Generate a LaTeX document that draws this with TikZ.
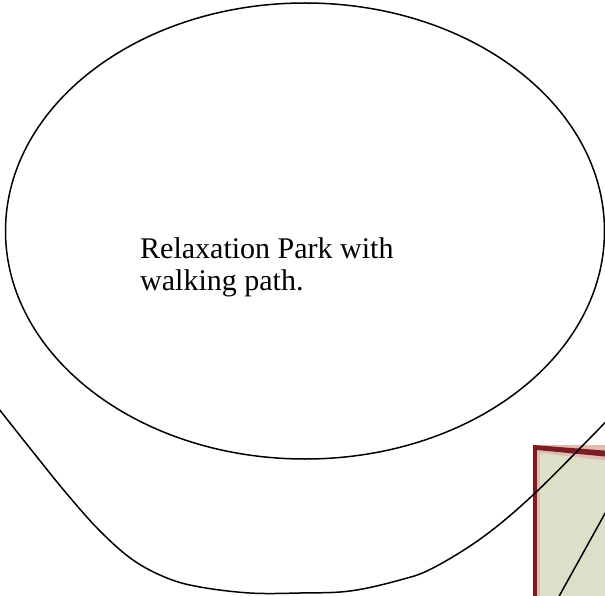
\documentclass[tikz,border=0pt]{standalone}
\usepackage{fontspec}
\setmainfont{Liberation Serif}
\usetikzlibrary{shapes.geometric}
\definecolor{frameRed}{RGB}{122,30,36}
\definecolor{framePink}{RGB}{226,186,178}
\definecolor{boxFill}{RGB}{222,223,200}
\tikzset{
  outline/.style={draw=black, line width=1.5pt},
  label/.style={align=left, font=\fontsize{30}{32}\selectfont, inner sep=0pt},
}
\begin{document}
\begin{tikzpicture}[x=1pt, y=-1pt]
\useasboundingbox (0,0) rectangle (605,596);
\clip (0,0) rectangle (605,596);
% ellipse
\node[outline, ellipse, minimum width=599pt, minimum height=456pt, inner sep=0pt] (park) at (305,231) {};
\node[label, anchor=base west] (txt) at (140,290) {Relaxation Park with\\walking path.};
% picture frame at bottom right
\fill[framePink] (533,445) rectangle (610,600);
\fill[frameRed] (533,445) rectangle (537,600);
\fill[frameRed] (533,445) -- (610,451) -- (610,457) -- (537,450) -- cycle;
\fill[boxFill] (540,453) -- (610,461) -- (610,600) -- (540,600) -- cycle;
\coordinate (l1) at (608,508);
\coordinate (l2) at (557,600);
\draw[outline] (l1) -- (l2);
% walking path curve
\draw[outline] plot[smooth, tension=0.6] coordinates {(-5,404) (33,452) (67,494) (100,531) (133,560) (167,578) (200,587) (250,593) (300,593) (350,591) (400,580) (433,568) (483,537) (533,495) (593,435) (612,415)};
\end{tikzpicture}
\end{document}
